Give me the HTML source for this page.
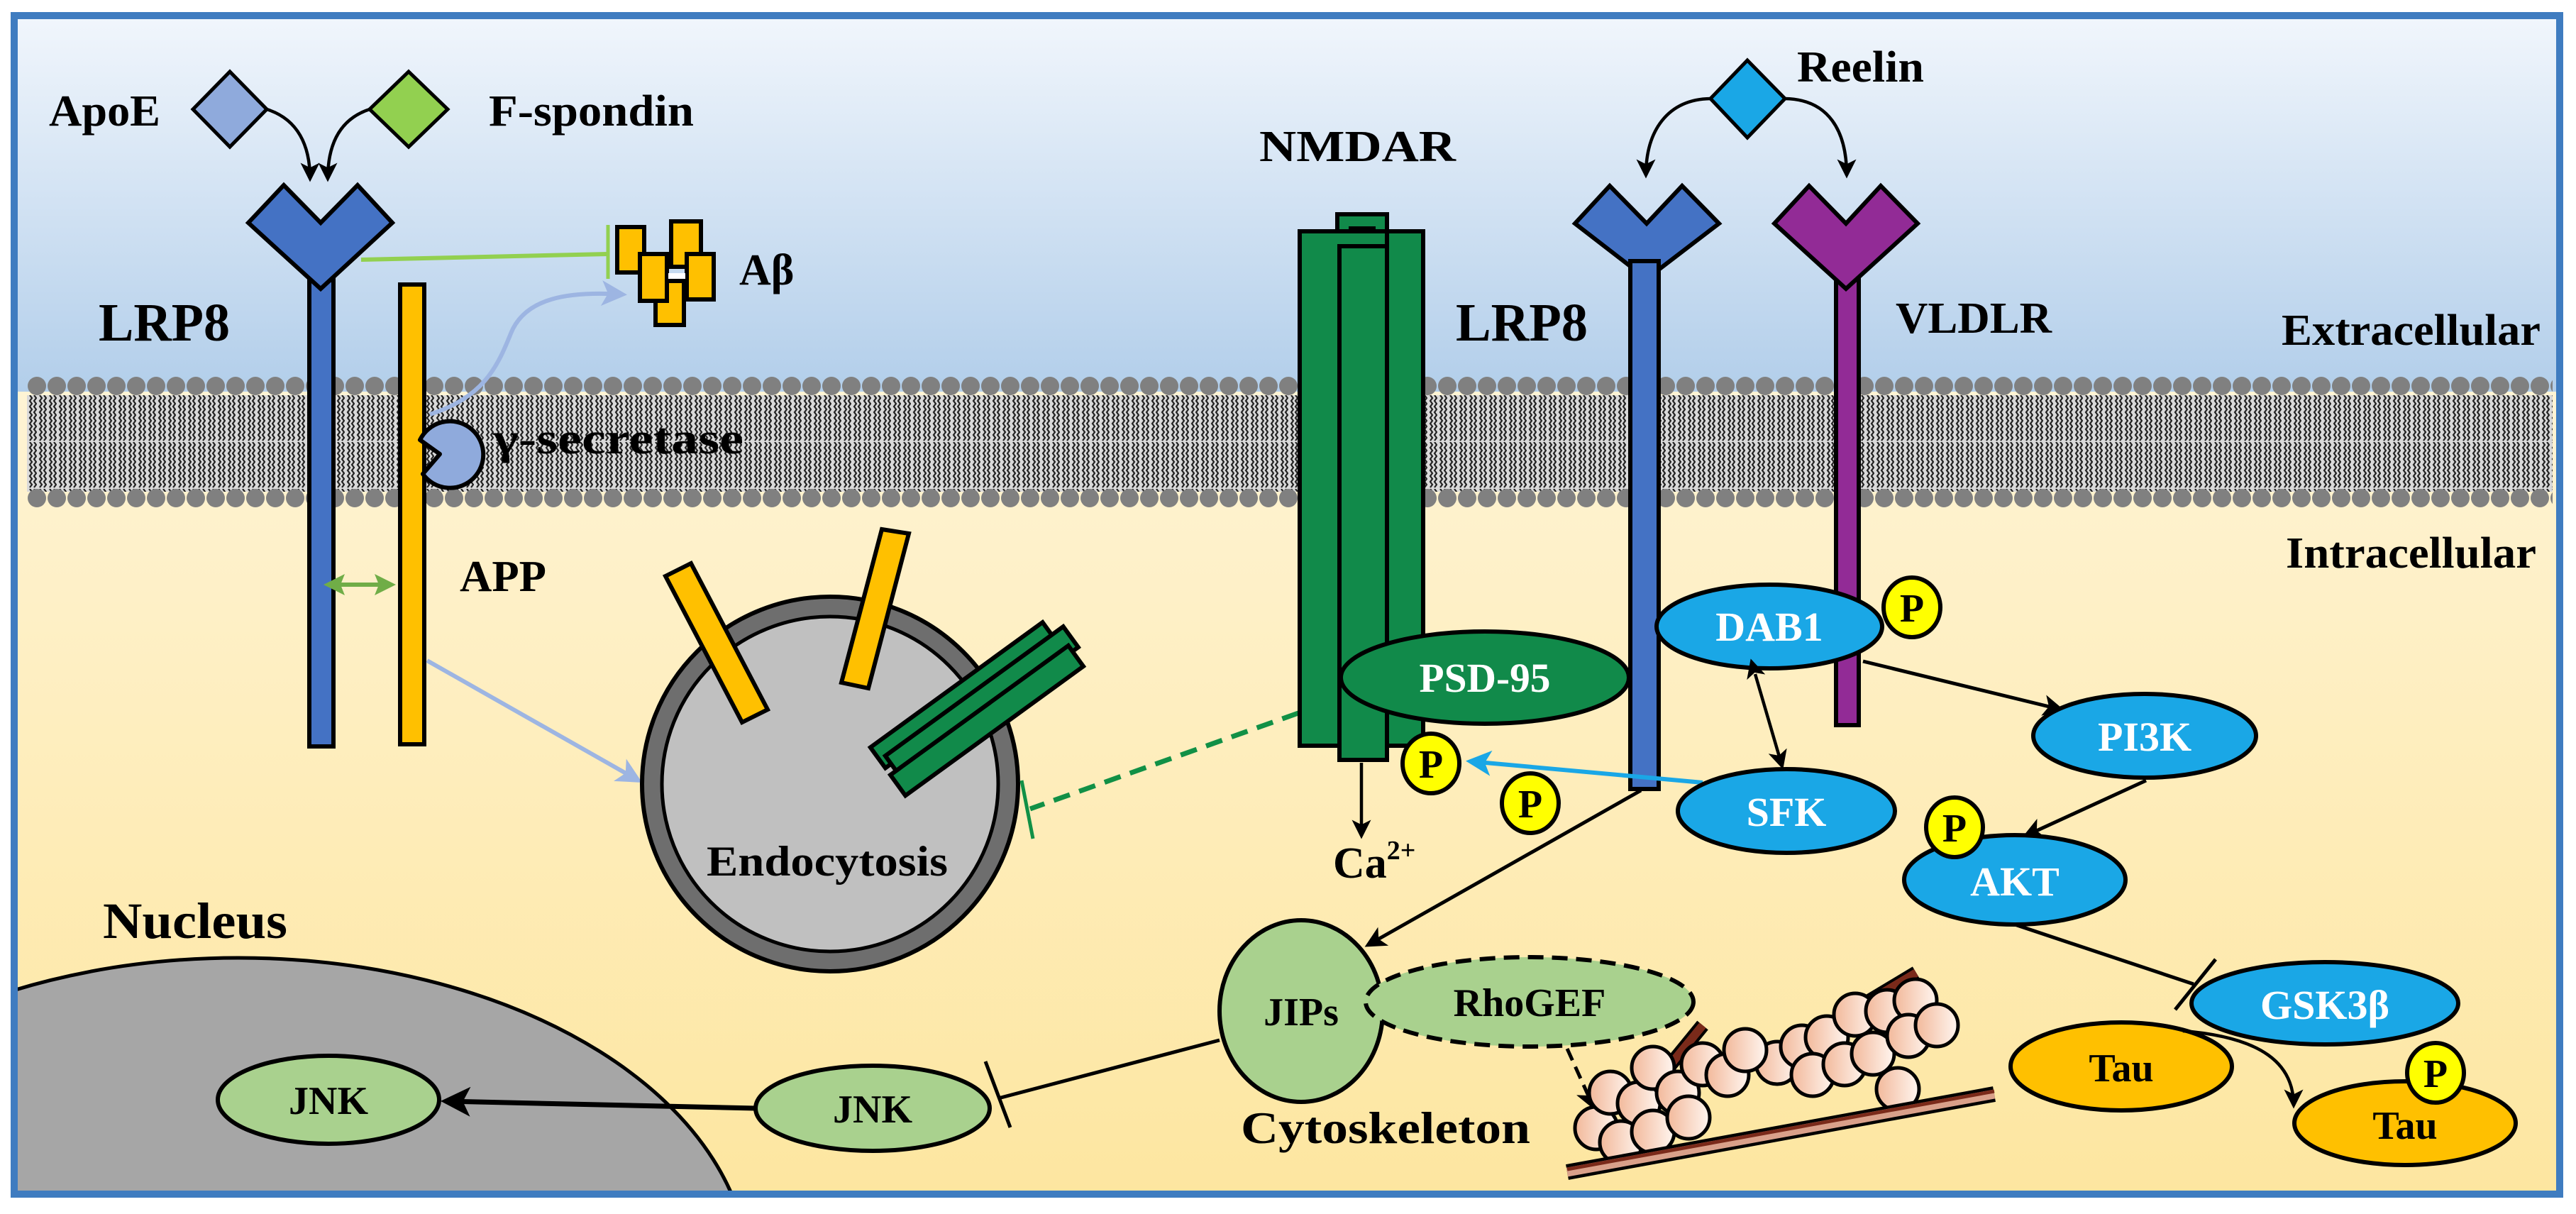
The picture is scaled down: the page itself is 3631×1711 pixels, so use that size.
<!DOCTYPE html>
<html><head><meta charset="utf-8"><style>
html,body{margin:0;padding:0;background:#fff;overflow:hidden;width:3631px;height:1711px;}
svg{display:block;}
text{font-family:"Liberation Serif",serif;font-weight:bold;}
</style></head><body>
<svg width="3631" height="1711" viewBox="0 0 3631 1711" xmlns="http://www.w3.org/2000/svg">
<defs>
<clipPath id="frame"><rect x="20" y="22" width="3588" height="1661"/></clipPath>
<linearGradient id="top" x1="0" y1="0" x2="0" y2="1">
<stop offset="0" stop-color="#f1f6fc"/><stop offset="1" stop-color="#b2ceea"/></linearGradient>
<linearGradient id="bot" x1="0" y1="0" x2="0" y2="1">
<stop offset="0" stop-color="#fffaed"/><stop offset="1" stop-color="#fde6a0"/></linearGradient>
<pattern id="heads" x="38" y="0" width="28" height="1711" patternUnits="userSpaceOnUse">
<ellipse cx="14" cy="544" rx="13" ry="13" fill="#808080"/>
<ellipse cx="14" cy="702" rx="13" ry="13" fill="#808080"/>
</pattern>
<pattern id="tails" x="38" y="557" width="14" height="66" patternUnits="userSpaceOnUse">
<rect width="14" height="66" fill="#d9d9d9"/>
<path d="M4,0 l3,4 l-3,4 l3,4 l-3,4 l3,4 l-3,4 l3,4 l-3,4 l3,4 l-3,4 l3,4 l-3,4 l3,4 l-3,4 l3,4 l-3,4" fill="none" stroke="#222" stroke-width="2.2"/>
<path d="M10,0 l3,4 l-3,4 l3,4 l-3,4 l3,4 l-3,4 l3,4 l-3,4 l3,4 l-3,4 l3,4 l-3,4 l3,4 l-3,4 l3,4 l-3,4" fill="none" stroke="#222" stroke-width="2.2"/>
</pattern>
<marker id="ah" markerWidth="6" markerHeight="6" refX="5" refY="3" orient="auto" markerUnits="strokeWidth">
<path d="M0,0 L6,3 L0,6 L1.5,3 Z" fill="#000"/></marker>
<marker id="ahs" markerWidth="6" markerHeight="6" refX="1" refY="3" orient="auto-start-reverse" markerUnits="strokeWidth">
<path d="M0,0 L6,3 L0,6 L1.5,3 Z" fill="#000"/></marker>
<marker id="ahb" markerWidth="6" markerHeight="6" refX="5" refY="3" orient="auto" markerUnits="strokeWidth">
<path d="M0,0 L6,3 L0,6 L1.5,3 Z" fill="#9db5e2"/></marker>
<marker id="ahc" markerWidth="6" markerHeight="6" refX="5" refY="3" orient="auto" markerUnits="strokeWidth">
<path d="M0,0 L6,3 L0,6 L1.5,3 Z" fill="#1aa7e6"/></marker>
<marker id="ahg" markerWidth="5" markerHeight="5" refX="4" refY="2.5" orient="auto" markerUnits="strokeWidth">
<path d="M0,0 L5,2.5 L0,5 L1,2.5 Z" fill="#70ad47"/></marker>
<marker id="ahgs" markerWidth="5" markerHeight="5" refX="1" refY="2.5" orient="auto-start-reverse" markerUnits="strokeWidth">
<path d="M0,0 L5,2.5 L0,5 L1,2.5 Z" fill="#70ad47"/></marker>
<linearGradient id="bead" x1="0" y1="0" x2="1" y2="0">
<stop offset="0" stop-color="#f2b89a"/><stop offset="1" stop-color="#fff6f0"/></linearGradient>
</defs>

<rect x="20" y="22" width="3588" height="1661" fill="url(#bot)"/>
<rect x="20" y="22" width="3588" height="530" fill="url(#top)"/>
<rect x="38" y="557" width="3560" height="136" fill="url(#tails)"/>
<rect x="38" y="529" width="3560" height="190" fill="url(#heads)"/>

<g clip-path="url(#frame)">
<ellipse cx="336" cy="1800" rx="720" ry="450" fill="#a6a6a6" stroke="#000" stroke-width="5"/>
</g>

<rect x="20" y="22" width="3588" height="1661" fill="none" stroke="#3f7cc0" stroke-width="10"/>

<polygon points="324,101 376,154 324,207 272,154" fill="#8faadc" stroke="#000" stroke-width="5"/>
<polygon points="576,101 631,154 576,207 521,154" fill="#92d050" stroke="#000" stroke-width="5"/>
<path d="M376,154 C420,168 437,205 437,252" fill="none" stroke="#000" stroke-width="4.5" marker-end="url(#ah)"/>
<path d="M521,154 C478,168 462,205 462,252" fill="none" stroke="#000" stroke-width="4.5" marker-end="url(#ah)"/>

<rect x="436" y="395" width="34" height="657" fill="#4472c4" stroke="#000" stroke-width="6"/>
<polygon points="350,314 400,261 452,314 504,261 553,314 452,407" fill="#4472c4" stroke="#000" stroke-width="6"/>
<rect x="564" y="401" width="34" height="648" fill="#ffc000" stroke="#000" stroke-width="6"/>
<line x1="509" y1="366" x2="857" y2="358" stroke="#92d050" stroke-width="6"/>
<line x1="857" y1="317" x2="857" y2="393" stroke="#92d050" stroke-width="5"/>
<g fill="#ffc000" stroke="#000" stroke-width="6">
<rect x="870" y="320" width="38" height="64"/>
<rect x="946" y="312" width="42" height="64"/>
<rect x="924" y="396" width="40" height="62"/>
<rect x="902" y="358" width="38" height="66"/>
<rect x="968" y="358" width="38" height="64"/>
</g>
<rect x="942" y="385" width="24" height="8" fill="#fff"/>
<path d="M606,584 C680,560 700,520 720,470 C740,420 800,410 878,415" fill="none" stroke="#9db5e2" stroke-width="6" marker-end="url(#ahb)"/>
<path d="M592,620 A47,47 0 1,1 596,668 L620,640 Z" fill="#8faadc" stroke="#000" stroke-width="6" stroke-linejoin="round"/>

<line x1="480" y1="824" x2="552" y2="824" stroke="#70ad47" stroke-width="6" marker-start="url(#ahgs)" marker-end="url(#ahg)"/>
<line x1="602" y1="931" x2="900" y2="1100" stroke="#9db5e2" stroke-width="6" marker-end="url(#ahb)"/>

<ellipse cx="1170" cy="1105" rx="265" ry="264" fill="#6e6e6e" stroke="#000" stroke-width="6"/>
<ellipse cx="1170" cy="1105" rx="237" ry="236" fill="#c0c0c0" stroke="#000" stroke-width="5"/>
<polygon points="938,812 974,794 1082,1000 1046,1018" fill="#ffc000" stroke="#000" stroke-width="6"/>
<polygon points="1243,746 1281,752 1224,970 1186,962" fill="#ffc000" stroke="#000" stroke-width="6"/>
<g transform="translate(1268,1110) rotate(-36)" fill="#118a4a" stroke="#000" stroke-width="6">
<rect x="0" y="-70" width="300" height="36"/>
<rect x="10" y="-48" width="310" height="36"/>
<rect x="0" y="-22" width="310" height="36"/>
</g>
<text x="1166" y="1234" font-size="60" text-anchor="middle" textLength="340" lengthAdjust="spacingAndGlyphs">Endocytosis</text>
<line x1="1830" y1="1005" x2="1452" y2="1140" stroke="#119046" stroke-width="7" stroke-dasharray="24,14"/>
<line x1="1440" y1="1100" x2="1456" y2="1182" stroke="#119046" stroke-width="5"/>

<g fill="#118a4a" stroke="#000" stroke-width="6">
<rect x="1885" y="302" width="70" height="24"/>
<rect x="1904" y="322" width="32" height="26"/>
<rect x="1832" y="326" width="174" height="725"/>
<line x1="1955" y1="326" x2="1955" y2="1051"/>
<rect x="1888" y="347" width="67" height="724"/>
</g>

<polygon points="2220,315 2269,262 2321,315 2371,262 2423,315 2321,393" fill="#4472c4" stroke="#000" stroke-width="6"/>
<rect x="2298" y="368" width="40" height="744" fill="#4472c4" stroke="#000" stroke-width="6"/>
<rect x="2588" y="390" width="32" height="632" fill="#922b96" stroke="#000" stroke-width="6"/>
<polygon points="2501,315 2550,262 2602,315 2651,262 2703,315 2602,407" fill="#922b96" stroke="#000" stroke-width="6"/>
<polygon points="2463,85 2516,139 2463,194 2411,139" fill="#1aa7e6" stroke="#000" stroke-width="5"/>
<path d="M2411,139 C2350,140 2320,185 2320,247" fill="none" stroke="#000" stroke-width="4.5" marker-end="url(#ah)"/>
<path d="M2516,139 C2578,140 2603,185 2603,247" fill="none" stroke="#000" stroke-width="4.5" marker-end="url(#ah)"/>

<ellipse cx="2093" cy="955" rx="203" ry="65" fill="#118a4a" stroke="#000" stroke-width="6"/>
<text x="2093" y="975" font-size="58" fill="#fff" text-anchor="middle" textLength="185" lengthAdjust="spacingAndGlyphs">PSD-95</text>
<ellipse cx="2494" cy="883" rx="159" ry="59" fill="#1aa7e6" stroke="#000" stroke-width="6"/>
<text x="2494" y="903" font-size="58" fill="#fff" text-anchor="middle">DAB1</text>
<line x1="2474" y1="950" x2="2512" y2="1080" stroke="#000" stroke-width="4.5" marker-start="url(#ahs)" marker-end="url(#ah)"/>
<line x1="2626" y1="932" x2="2905" y2="1000" stroke="#000" stroke-width="5" marker-end="url(#ah)"/>
<line x1="3025" y1="1100" x2="2855" y2="1178" stroke="#000" stroke-width="5" marker-end="url(#ah)"/>
<line x1="2400" y1="1103" x2="2072" y2="1073" stroke="#1aa7e6" stroke-width="6" marker-end="url(#ahc)"/>
<line x1="1919" y1="1075" x2="1919" y2="1178" stroke="#000" stroke-width="4.5" marker-end="url(#ah)"/>
<line x1="2313" y1="1114" x2="1928" y2="1332" stroke="#000" stroke-width="5" marker-end="url(#ah)"/>
<ellipse cx="3023" cy="1037" rx="157" ry="59" fill="#1aa7e6" stroke="#000" stroke-width="6"/>
<text x="3023" y="1058" font-size="58" fill="#fff" text-anchor="middle">PI3K</text>
<ellipse cx="2518" cy="1143" rx="153" ry="59" fill="#1aa7e6" stroke="#000" stroke-width="6"/>
<text x="2518" y="1164" font-size="58" fill="#fff" text-anchor="middle">SFK</text>
<ellipse cx="2840" cy="1240" rx="156" ry="63" fill="#1aa7e6" stroke="#000" stroke-width="6"/>
<text x="2840" y="1262" font-size="58" fill="#fff" text-anchor="middle">AKT</text>
<line x1="2840" y1="1303" x2="3092" y2="1387" stroke="#000" stroke-width="5"/>
<line x1="3123" y1="1352" x2="3066" y2="1423" stroke="#000" stroke-width="5"/>
<ellipse cx="3277" cy="1414" rx="188" ry="58" fill="#1aa7e6" stroke="#000" stroke-width="6"/>
<text x="3277" y="1436" font-size="58" fill="#fff" text-anchor="middle">GSK3β</text>
<ellipse cx="2990" cy="1503" rx="156" ry="62" fill="#ffc000" stroke="#000" stroke-width="6"/>
<text x="2990" y="1524" font-size="56" text-anchor="middle">Tau</text>
<path d="M3077,1453 C3190,1462 3233,1500 3233,1558" fill="none" stroke="#000" stroke-width="4.5" marker-end="url(#ah)"/>
<ellipse cx="3390" cy="1583" rx="156" ry="59" fill="#ffc000" stroke="#000" stroke-width="6"/>
<text x="3390" y="1605" font-size="56" text-anchor="middle">Tau</text>

<g fill="#ffff00" stroke="#000" stroke-width="6">
<ellipse cx="2695" cy="856" rx="40" ry="42"/>
<ellipse cx="2755" cy="1166" rx="40" ry="42"/>
<ellipse cx="3433" cy="1512" rx="40" ry="42"/>
<ellipse cx="2017" cy="1076" rx="40" ry="42"/>
<ellipse cx="2157" cy="1132" rx="40" ry="42"/>
</g>
<g font-size="56" text-anchor="middle">
<text x="2695" y="876">P</text>
<text x="2755" y="1186">P</text>
<text x="3433" y="1532">P</text>
<text x="2017" y="1096">P</text>
<text x="2157" y="1152">P</text>
</g>

<ellipse cx="1834" cy="1425" rx="115" ry="128" fill="#a9d18e" stroke="#000" stroke-width="6"/>
<ellipse cx="2156" cy="1412" rx="231" ry="63" fill="#a9d18e" stroke="#000" stroke-width="6" stroke-dasharray="22,12"/>
<text x="1834" y="1445" font-size="56" text-anchor="middle">JIPs</text>
<text x="2156" y="1432" font-size="56" text-anchor="middle">RhoGEF</text>
<line x1="2209" y1="1478" x2="2246" y2="1560" stroke="#000" stroke-width="5" stroke-dasharray="18,10" marker-end="url(#ah)"/>
<line x1="1719" y1="1466" x2="1407" y2="1548" stroke="#000" stroke-width="5"/>
<line x1="1389" y1="1496" x2="1424" y2="1589" stroke="#000" stroke-width="5"/>
<ellipse cx="1230" cy="1562" rx="165" ry="60" fill="#a9d18e" stroke="#000" stroke-width="6"/>
<text x="1230" y="1582" font-size="56" text-anchor="middle">JNK</text>
<line x1="1065" y1="1562" x2="628" y2="1552" stroke="#000" stroke-width="7" marker-end="url(#ah)"/>
<ellipse cx="463" cy="1550" rx="156" ry="62" fill="#a9d18e" stroke="#000" stroke-width="6"/>
<text x="463" y="1570" font-size="56" text-anchor="middle">JNK</text>

<line x1="2342" y1="1516" x2="2400" y2="1445" stroke="#000" stroke-width="20"/>
<line x1="2342" y1="1516" x2="2400" y2="1445" stroke="#7a2a1a" stroke-width="12"/>
<line x1="2556" y1="1458" x2="2701" y2="1371" stroke="#000" stroke-width="20"/>
<line x1="2556" y1="1458" x2="2701" y2="1371" stroke="#7a2a1a" stroke-width="12"/>
<g stroke="#000" stroke-width="5" fill="url(#bead)">
<circle cx="2505" cy="1498" r="30"/><circle cx="2540" cy="1475" r="30"/>
<circle cx="2575" cy="1462" r="30"/><circle cx="2615" cy="1430" r="30"/>
<circle cx="2660" cy="1425" r="30"/><circle cx="2700" cy="1410" r="30"/>
<circle cx="2555" cy="1515" r="30"/><circle cx="2600" cy="1500" r="30"/>
<circle cx="2640" cy="1485" r="30"/><circle cx="2690" cy="1460" r="30"/>
<circle cx="2730" cy="1445" r="30"/><circle cx="2675" cy="1535" r="30"/>
<circle cx="2250" cy="1590" r="30"/><circle cx="2270" cy="1540" r="30"/>
<circle cx="2310" cy="1555" r="30"/><circle cx="2330" cy="1505" r="30"/>
<circle cx="2365" cy="1540" r="30"/><circle cx="2400" cy="1500" r="30"/>
<circle cx="2435" cy="1515" r="30"/><circle cx="2460" cy="1480" r="30"/>
<circle cx="2285" cy="1610" r="30"/><circle cx="2330" cy="1595" r="30"/>
<circle cx="2380" cy="1575" r="30"/>
</g>
<line x1="2209" y1="1652" x2="2811" y2="1542" stroke="#000" stroke-width="22"/>
<line x1="2209" y1="1652" x2="2811" y2="1542" stroke="#d9a08a" stroke-width="13"/>
<line x1="2209" y1="1648" x2="2811" y2="1538" stroke="#7a2a1a" stroke-width="5"/>

<text x="69" y="177" font-size="62" textLength="157" lengthAdjust="spacingAndGlyphs">ApoE</text>
<text x="689" y="177" font-size="62" textLength="289" lengthAdjust="spacingAndGlyphs">F-spondin</text>
<text x="139" y="480" font-size="76" textLength="185" lengthAdjust="spacingAndGlyphs">LRP8</text>
<text x="1042" y="401" font-size="62">Aβ</text>
<text x="695" y="639" font-size="62" textLength="353" lengthAdjust="spacingAndGlyphs">γ-secretase</text>
<text x="648" y="833" font-size="62" textLength="122" lengthAdjust="spacingAndGlyphs">APP</text>
<text x="1775" y="227" font-size="62" textLength="277" lengthAdjust="spacingAndGlyphs">NMDAR</text>
<text x="2052" y="480" font-size="76" textLength="186" lengthAdjust="spacingAndGlyphs">LRP8</text>
<text x="2533" y="115" font-size="62" textLength="179" lengthAdjust="spacingAndGlyphs">Reelin</text>
<text x="2672" y="469" font-size="62" textLength="220" lengthAdjust="spacingAndGlyphs">VLDLR</text>
<text x="3216" y="486" font-size="62" textLength="365" lengthAdjust="spacingAndGlyphs">Extracellular</text>
<text x="3222" y="800" font-size="62" textLength="353" lengthAdjust="spacingAndGlyphs">Intracellular</text>
<text x="145" y="1322" font-size="72" textLength="260" lengthAdjust="spacingAndGlyphs">Nucleus</text>
<text x="1879" y="1237" font-size="62">Ca<tspan font-size="38" dy="-26">2+</tspan></text>
<text x="1749" y="1611" font-size="64" textLength="408" lengthAdjust="spacingAndGlyphs">Cytoskeleton</text>
</svg>
</body></html>
